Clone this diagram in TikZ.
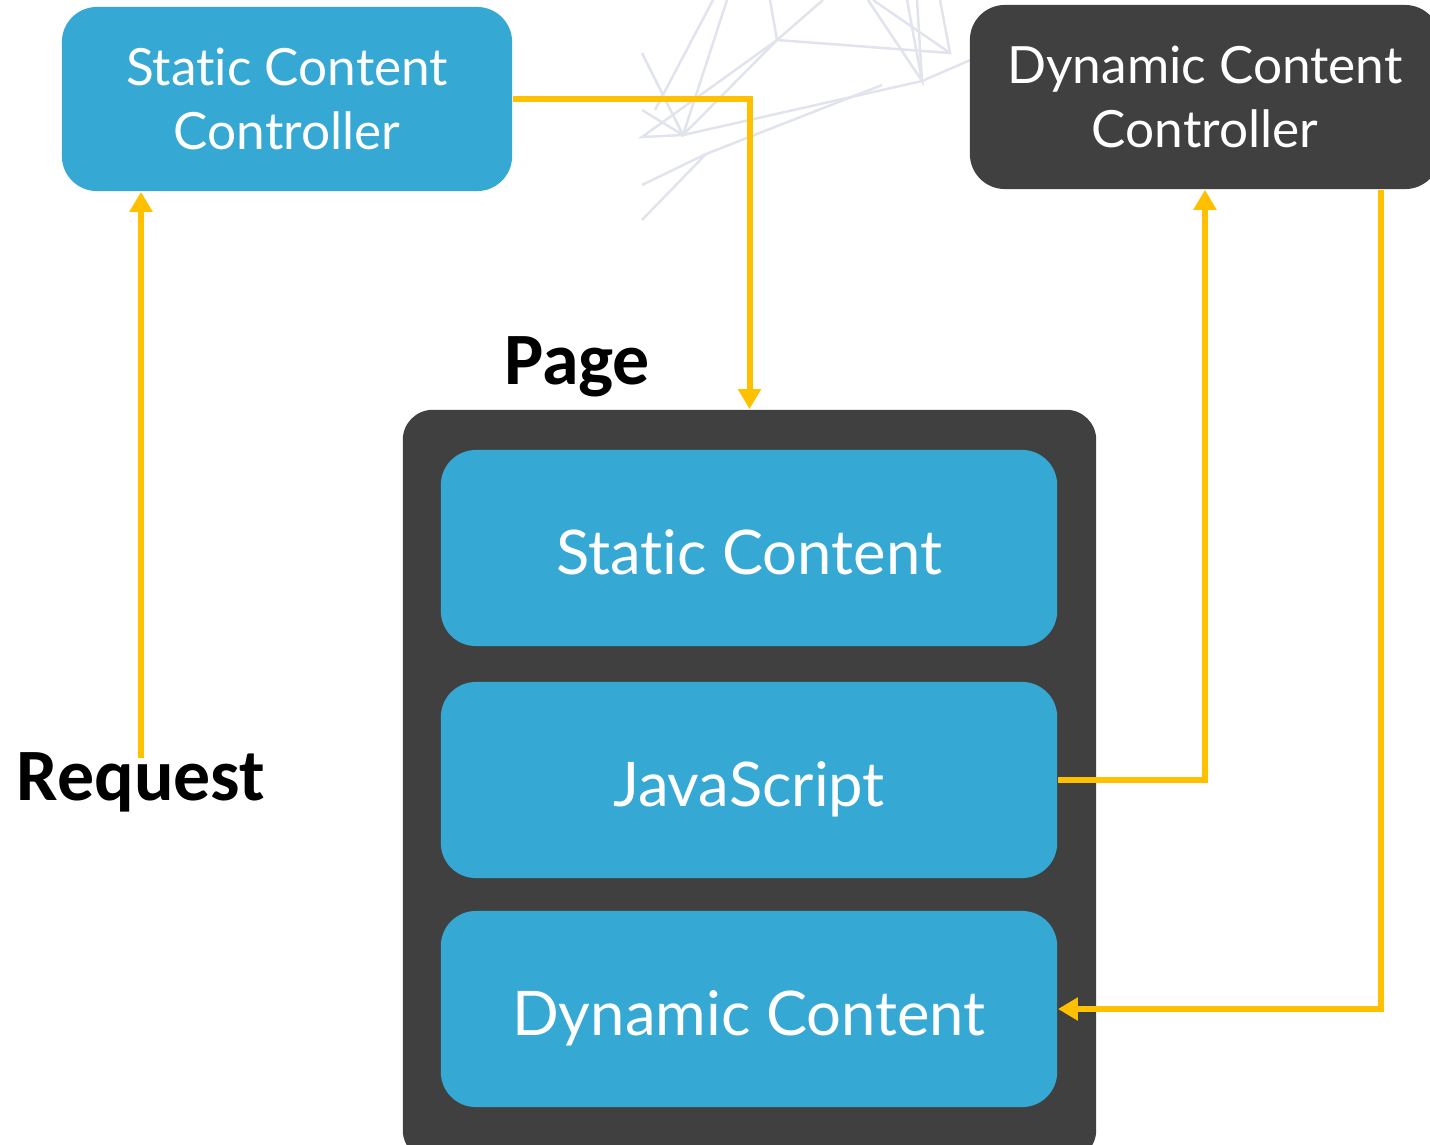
\documentclass[tikz,border=0pt]{standalone}
\usepackage{fontspec}
\setmainfont{Carlito}
\newfontfamily\boxfont[Ligatures=NoCommon]{Lato}
\usetikzlibrary{arrows.meta}
\definecolor{boxblue}{HTML}{35A8D4}
\definecolor{boxdark}{HTML}{404040}
\definecolor{flow}{HTML}{FFC000}
\definecolor{netgray}{HTML}{E1E4EC}

\begin{document}
\begin{tikzpicture}
		[x=0.01cm, y=-0.01cm,
		every node/.style={ },
		ctrl/.style={rounded corners=0.35cm, text=white, align=center, minimum height=1.84cm, font=\boxfont\fontsize{14.6}{18}\selectfont},
		part/.style={fill=boxblue, rounded corners=0.35cm, text=white, minimum width=6.16cm, minimum height=1.96cm, text height=0.52cm, text depth=0pt, font=\boxfont\fontsize{17.5}{21}\selectfont},
		tag/.style={font=\bfseries\fontsize{21}{25}\selectfont, inner sep=1pt},
		flowline/.style={draw=flow, line width=0.06cm, -{Triangle[width=0.22cm,length=0.2cm]}}
		]
		\useasboundingbox (0,0) rectangle (1430,1144);
		\clip (0,0) rectangle (1430,1144);
		\begin{scope}[draw=netgray, line width=0.025cm]
			\draw (642,53) -- (683,135) -- (777,40) -- (823,0);
			\draw (727,0) -- (683,135) -- (922,81) -- (975,58);
			\draw (642,110) -- (683,135) -- (642,137) -- (777,40) -- (950,53) -- (940,0);
			\draw (770,0) -- (777,40);  \draw (873,0) -- (950,53);
			\draw (868,0) -- (922,81) -- (907,0);  \draw (922,81) -- (917,0);
			\draw (713,0) -- (655,110);
			\draw (642,185) -- (706,154) -- (882,85);  \draw (642,220) -- (706,154);
		\end{scope}
		\begin{scope}
			\node[ctrl, fill=boxblue, minimum width=4.5cm] (scc) at (287,99) {Static Content\\Controller};
			\node[ctrl, fill=boxdark, minimum width=4.7cm] (dcc) at (1205,97) {Dynamic Content\\Controller};
			\node[fill=boxdark, rounded corners=0.3cm, minimum width=6.93cm, minimum height=7.5cm] (page) at (749.5,785) {};
			\node[part] (static) at (749,548) {Static Content};
			\node[part] (js) at (749,780) {JavaScript};
			\node[part] (dynamic) at (749,1009) {Dynamic Content};
			\node[tag] (pagename) at (577,367) {Page};
			\node[tag] (request) at (141,782) {Request};
		\end{scope}
		\draw[flowline] ([yshift=-0.1cm]request.north) -- (request.north |- scc.south);
		\draw[flowline] (scc.east) -| (page.north);
		\draw[flowline] (js.east) -| (dcc.south);
		\draw[flowline] ([xshift=-0.6cm]dcc.south east) |- (dynamic.east);
	\end{tikzpicture}
\end{document}
